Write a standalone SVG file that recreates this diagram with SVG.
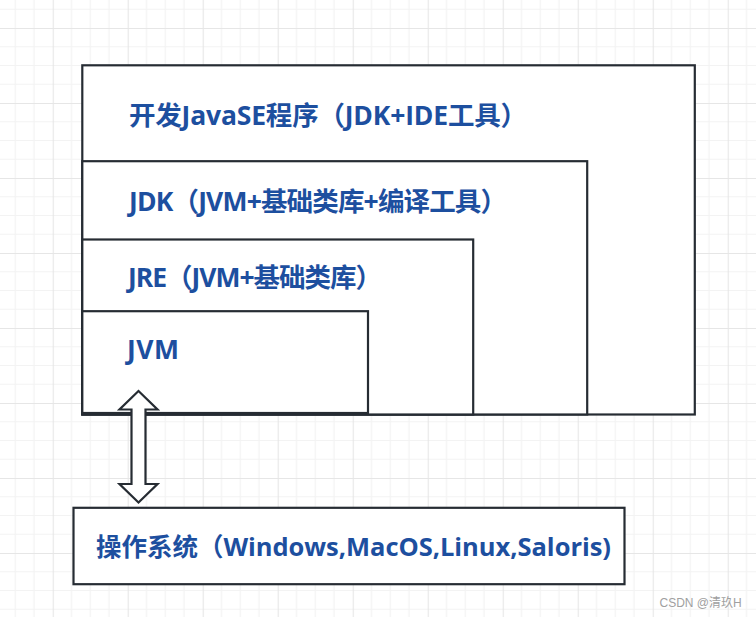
<svg xmlns="http://www.w3.org/2000/svg" width="756" height="617" viewBox="0 0 756 617">
  <style>
    .box { fill: #ffffff; stroke: #262c33; stroke-width: 2.2; }
    .lbl { font-family: "Open Sans", "Noto Sans CJK SC", sans-serif; font-weight: 700; font-size: 26.5px; fill: #1d4f9f; }
    .os { font-size: 25.5px; }
    .wm { font-family: "Liberation Sans", "Noto Sans CJK SC", sans-serif; font-size: 12px; fill: #a0a0a0; }
  </style>
  <defs>
    <pattern id="grid" patternUnits="userSpaceOnUse" x="52.7" y="28" width="75" height="75">
      <path d="M18.75 0V75M37.5 0V75M56.25 0V75M0 18.75H75M0 37.5H75M0 56.25H75" stroke="#f3f3f3" stroke-width="1.2" fill="none"/>
      <path d="M0.5 0V75M0 0.5H75" stroke="#e6e6e6" stroke-width="1.2" fill="none"/>
    </pattern>
  </defs>
  <rect width="756" height="617" fill="#ffffff"/>
  <rect width="756" height="617" fill="url(#grid)"/>

  <g id="node-javase">
    <rect class="box" x="82.3" y="65.3" width="612.5" height="349.2"/>
    <text class="lbl" x="129" y="124.5" textLength="398">开发JavaSE程序（JDK+IDE工具）</text>
  </g>
  <g id="node-jdk">
    <rect class="box" x="82.3" y="161.2" width="504.9" height="253.3"/>
    <text class="lbl" x="129" y="211" textLength="378">JDK（JVM+基础类库+编译工具）</text>
  </g>
  <g id="node-jre">
    <rect class="box" x="82.3" y="239.5" width="390.9" height="175"/>
    <text class="lbl" x="128" y="287" textLength="254">JRE（JVM+基础类库）</text>
  </g>
  <g id="node-jvm">
    <rect class="box" x="82.3" y="311.2" width="285.7" height="101.8"/>
    <text class="lbl" x="127" y="358.5" textLength="52">JVM</text>
  </g>
  <g id="node-os">
    <rect class="box" x="73.5" y="507.8" width="551" height="76.4"/>
    <text class="lbl os" x="96" y="556" textLength="515">操作系统（Windows,MacOS,Linux,Saloris)</text>
  </g>

  <g id="connectors">
    <polygon class="box" points="138.5,391 157.5,409.5 145.5,409.5 145.5,484 157.5,484 138.5,502.5 119.5,484 131.5,484 131.5,409.5 119.5,409.5"/>
  </g>

  <text class="wm" x="659.5" y="606.5">CSDN @清玖H</text>
</svg>
